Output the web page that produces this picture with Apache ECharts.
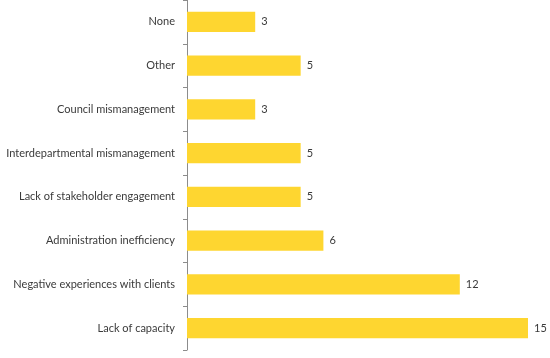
<!DOCTYPE html>
<html><head><meta charset="utf-8">
<script src="https://cdn.jsdelivr.net/npm/echarts@6/dist/echarts.min.js"></script>
<style>html,body{margin:0;padding:0;background:#fff}#c{width:550px;height:358px}</style>
</head><body><div id="c"></div>
<script>
const categories = ["Lack of capacity","Negative experiences with clients","Administration inefficiency","Lack of stakeholder engagement","Interdepartmental mismanagement","Council mismanagement","Other","None"];
const values = [15,12,6,5,5,3,5,3];
const chart = echarts.init(document.getElementById('c'));
chart.setOption({
  animation:false,
  grid:{left:187,right:22,top:0,bottom:8,containLabel:false,outerBoundsMode:'none'},
  xAxis:{type:'value',min:0,max:15,show:false},
  yAxis:{type:'category',data:categories,
    axisLine:{lineStyle:{color:'#8c8c8c',width:1}},
    axisTick:{show:true,length:4,lineStyle:{color:'#8c8c8c'}},
    axisLabel:{color:'#3a3a3a',fontFamily:'Lato',fontSize:11,margin:12}},
  series:[{type:'bar',data:values,barWidth:'46%',
    itemStyle:{color:'#FED630'},
    label:{show:true,position:'right',distance:6,color:'#3a3a3a',fontFamily:'Lato',fontSize:11}}]
});
</script></body></html>
